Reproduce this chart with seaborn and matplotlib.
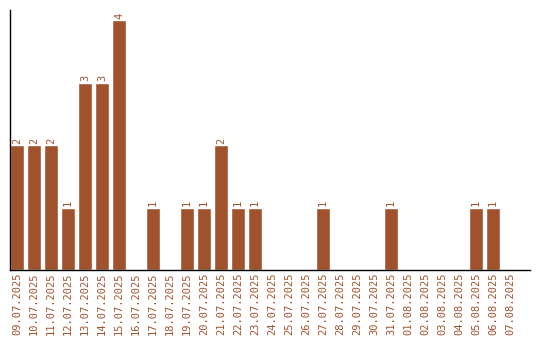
import matplotlib
matplotlib.use("Agg")
import matplotlib.pyplot as plt
import seaborn as sns
import pandas as pd

dates = ["09.07.2025", "10.07.2025", "11.07.2025", "12.07.2025", "13.07.2025",
         "14.07.2025", "15.07.2025", "16.07.2025", "17.07.2025", "18.07.2025",
         "19.07.2025", "20.07.2025", "21.07.2025", "22.07.2025", "23.07.2025",
         "24.07.2025", "25.07.2025", "26.07.2025", "27.07.2025", "28.07.2025",
         "29.07.2025", "30.07.2025", "31.07.2025", "01.08.2025", "02.08.2025",
         "03.08.2025", "04.08.2025", "05.08.2025", "06.08.2025", "07.08.2025"]
counts = [2, 2, 2, 1, 3, 3, 4, 0, 1, 0,
          1, 1, 2, 1, 1, 0, 0, 0, 1, 0,
          0, 0, 1, 0, 0, 0, 0, 1, 1, 0]

df = pd.DataFrame({"date": dates, "count": counts})
color = "#A0522D"

sns.set_style("white")
plt.rcParams["font.family"] = ["DejaVu Sans Mono"]

fig = plt.figure(figsize=(5.4, 3.4), dpi=100)
ax = fig.add_axes([10 / 540, 70 / 340, 520 / 540, 260 / 340])
sns.barplot(data=df, x="date", y="count", color=color, saturation=1,
            width=14 / 17, ax=ax)

for c in ax.containers:
    labels = [str(int(v)) if v > 0 else "" for v in c.datavalues]
    ax.bar_label(c, labels=labels, rotation=90, padding=1, fontsize=7.5,
                 color=color)

ax.set_xlim(-7 / 17, -7 / 17 + 520 / 17)
ax.set_ylim(0, 4 * 260 / 250)
ax.set_xlabel("")
ax.set_ylabel("")
ax.set_yticks([])
ax.tick_params(axis="x", length=0, pad=2, labelsize=7.5, labelcolor=color,
               rotation=90)
for s in ["top", "right"]:
    ax.spines[s].set_visible(False)
for s in ["left", "bottom"]:
    ax.spines[s].set_color("black")
    ax.spines[s].set_linewidth(1)

fig.savefig("out.png", dpi=100)
